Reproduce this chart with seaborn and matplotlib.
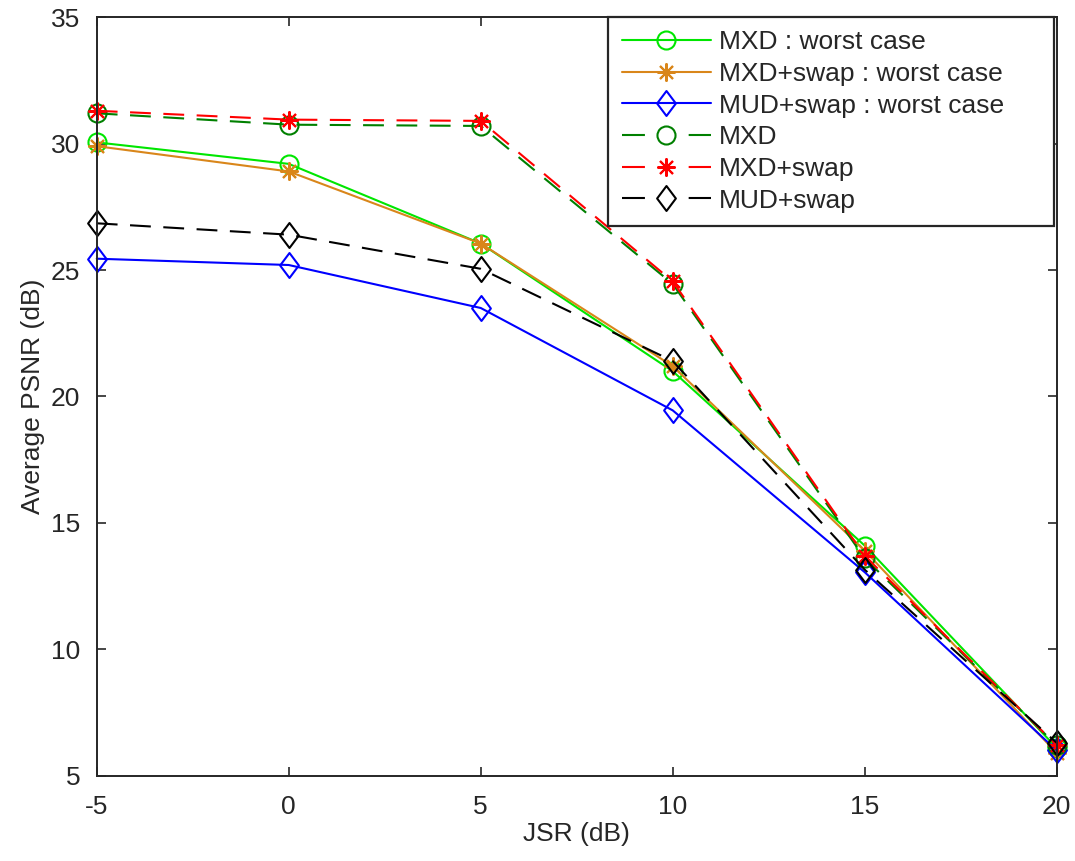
import numpy as np
import pandas as pd
import matplotlib
matplotlib.use("Agg")
import matplotlib.pyplot as plt
from matplotlib.lines import Line2D
from matplotlib.path import Path
import seaborn as sns

# JSR values (dB)
jsr = [-5, 0, 5, 10, 15, 20]

# Average PSNR (dB) per scheme
mxd_worst = [30.05, 29.2, 26.05, 21.0, 14.1, 6.1]
mxd_swap_worst = [29.9, 28.9, 26.05, 21.2, 13.9, 5.9]
mud_swap_worst = [25.45, 25.2, 23.5, 19.45, 13.05, 6.0]
mxd = [31.2, 30.75, 30.7, 24.45, 13.6, 6.2]
mxd_swap = [31.3, 30.95, 30.9, 24.55, 13.7, 6.2]
mud_swap = [26.85, 26.4, 25.05, 21.4, 13.15, 6.3]

# MATLAB-like diamond (taller than wide) and 8-arm asterisk
diamond = Path([(0, 1), (0.75, 0), (0, -1), (-0.75, 0), (0, 1)],
               [Path.MOVETO, Path.LINETO, Path.LINETO, Path.LINETO, Path.CLOSEPOLY])
star = (8, 2, 0)

series = [
    ("MXD : worst case", mxd_worst, "#00e600", "o", "-"),
    ("MXD+swap : worst case", mxd_swap_worst, "#d9861a", star, "-"),
    ("MUD+swap : worst case", mud_swap_worst, "#0000ff", diamond, "-"),
    ("MXD", mxd, "#008000", "o", "--"),
    ("MXD+swap", mxd_swap, "#ff0000", star, "--"),
    ("MUD+swap", mud_swap, "#000000", diamond, "--"),
]

def msize(m):
    if m is diamond:
        return 18
    return 13

sns.set_style("white")
plt.rcParams['font.family'] = ['Liberation Sans', 'DejaVu Sans']
plt.rcParams.update({
    'axes.unicode_minus': False,
    'xtick.direction': 'in',
    'ytick.direction': 'in',
    'xtick.major.size': 6.5,
    'ytick.major.size': 6.5,
    'xtick.top': True,
    'ytick.right': True,
    'xtick.bottom': True,
    'ytick.left': True,
})

fig = plt.figure(figsize=(10.75, 8.61), dpi=100)
ax = fig.add_axes([0.090, 0.099, 0.893, 0.881])

handles = []
for name, vals, color, marker, ls in series:
    df = pd.DataFrame({"JSR": jsr, "PSNR": vals})
    style = "-" if ls == "-" else (0, (10, 6))
    sns.lineplot(data=df, x="JSR", y="PSNR", ax=ax, color=color, marker=marker,
                 markersize=msize(marker), markerfacecolor="none",
                 markeredgecolor=color, markeredgewidth=1.5, linewidth=1.5,
                 linestyle=style, clip_on=False)
    hstyle = "-" if ls == "-" else (0, (11, 21))
    handles.append(Line2D([], [], color=color, marker=marker, markersize=msize(marker),
                          markerfacecolor="none", markeredgewidth=1.5,
                          linewidth=1.5, linestyle=hstyle, label=name))

ax.set_xlim(-5, 20)
ax.set_ylim(5, 35)
ax.set_xticks([-5, 0, 5, 10, 15, 20])
ax.set_yticks([5, 10, 15, 20, 25, 30, 35])
ax.tick_params(axis="both", labelsize=19, colors="#262626", width=1.2)
ax.tick_params(axis="y", pad=12)
ax.tick_params(axis="x", pad=14)
ax.set_xlabel("JSR (dB)", fontsize=19, color="#262626", labelpad=2)
ax.set_ylabel("Average PSNR (dB)", fontsize=19, color="#262626", labelpad=4)
for s in ax.spines.values():
    s.set_visible(True)
    s.set_color("#262626")
    s.set_linewidth(1.4)

leg = ax.legend(handles=handles, loc="upper right",
                bbox_to_anchor=(0.533, 0.5, 0.464, 0.5), mode="expand",
                fontsize=19, frameon=True, fancybox=False, framealpha=1,
                edgecolor="#262626", handlelength=3.4, labelspacing=0.29,
                borderpad=0.5, handletextpad=0.3, borderaxespad=0)
leg.get_frame().set_linewidth(1.6)

fig.savefig("out.png", dpi=100)
